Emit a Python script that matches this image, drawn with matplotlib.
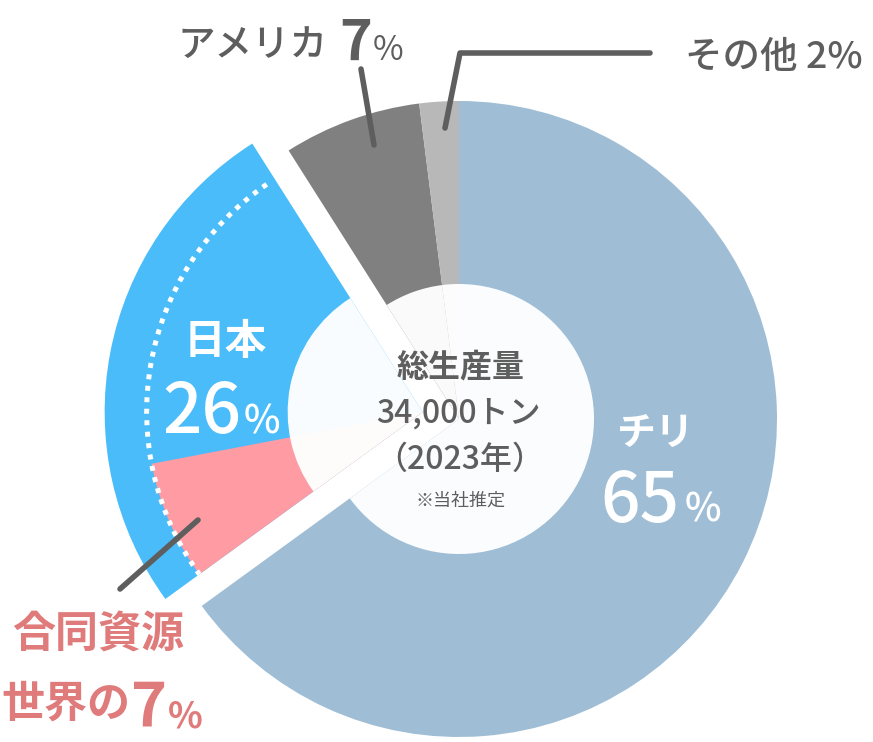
import matplotlib
matplotlib.use("Agg")
import matplotlib.pyplot as plt
from matplotlib.patches import Wedge, Arc

plt.rcParams['font.family'] = ['Noto Sans CJK JP', 'DejaVu Sans']

# データ
countries = ['チリ', '日本', 'アメリカ', 'その他']
shares = [65, 26, 7, 2]
godo_share = 7          # 合同資源 (日本の内数)
colors = ['#9FBED6', '#49BCF9', '#808080', '#B8B8B8']
pink = '#FE9BA3'
gray_txt = '#5E5E5E'
red_txt = '#E07B7B'

H = 742
def Y(y):
    # 画像座標 -> データ座標
    return H - y


fig = plt.figure(figsize=(8.73, 7.42), dpi=100)
ax = fig.add_axes([0, 0, 1, 1])

R = 318
hole = 135
cx, cy = 459, Y(419)
explode = [0, 37, 0, 0]   # pie() はデータ単位でずらす

wedges, _ = ax.pie(shares, colors=colors, startangle=90, counterclock=False,
                   radius=R, center=(cx, cy), explode=explode, frame=True,
                   wedgeprops=dict(linewidth=0))

jp = wedges[1]
# 合同資源 (チリ側から7%分)
g_deg = 360 * godo_share / sum(shares)
ax.add_patch(Wedge(jp.center, 276, jp.theta2 - g_deg, jp.theta2,
                   color=pink, lw=0))

# 中心の白い円
for w in wedges:
    ax.add_patch(Wedge(w.center, hole, w.theta1, w.theta2,
                       facecolor='white', alpha=0.97, lw=0))

# 点線
ax.add_patch(Arc(jp.center, 2 * 276, 2 * 276, theta1=jp.theta1 + 2,
                 theta2=jp.theta2, color='white', lw=3.6,
                 linestyle=(0, (1, 1.3))))

# 引き出し線
lk = dict(color=gray_txt, lw=4, solid_capstyle='round', solid_joinstyle='round')
ax.plot([361, 374], [Y(69), Y(145)], **lk)
ax.plot([650, 460, 445], [Y(53), Y(53), Y(128)], **lk)
ax.plot([198, 120], [Y(520), Y(589)], **lk)

# ラベル
ax.text(656, Y(434), 'チリ', color='white', fontsize=28, fontweight='bold',
        ha='center', va='center')
ax.text(680, Y(522), '65', color='white', fontsize=50, fontweight='medium',
        ha='right', va='baseline')
ax.text(685, Y(522), '%', color='white', fontsize=28, fontweight='medium',
        ha='left', va='baseline')

ax.text(225, Y(342), '日本', color='white', fontsize=30, fontweight='bold',
        ha='center', va='center')
ax.text(241, Y(433), '26', color='white', fontsize=50, fontweight='medium',
        ha='right', va='baseline')
ax.text(244, Y(433), '%', color='white', fontsize=28, fontweight='medium',
        ha='left', va='baseline')

ax.text(461, Y(367), '総生産量', color=gray_txt, fontsize=23, fontweight='bold',
        ha='center', va='center')
ax.text(458, Y(414), '34,000トン', color=gray_txt, fontsize=23,
        fontweight='medium', ha='center', va='center')
ax.text(460, Y(460), '（2023年）', color=gray_txt, fontsize=23,
        fontweight='medium', ha='center', va='center')
ax.text(461, Y(501), '※当社推定', color=gray_txt, fontsize=13,
        ha='center', va='center')

ax.text(252, Y(45), 'アメリカ', color=gray_txt, fontsize=27, fontweight='medium',
        ha='center', va='center')
ax.text(339, Y(60), '7', color=gray_txt, fontsize=40, fontweight='bold',
        ha='left', va='baseline')
ax.text(373, Y(60), '%', color=gray_txt, fontsize=24,
        ha='left', va='baseline')

ax.text(685, Y(57), 'その他 2%', color=gray_txt, fontsize=27, fontweight='medium',
        ha='left', va='center')

ax.text(98, Y(635), '合同資源', color=red_txt, fontsize=31, fontweight='bold',
        ha='center', va='center')
ax.text(66, Y(704), '世界の', color=red_txt, fontsize=31, fontweight='bold',
        ha='center', va='center')
ax.text(131, Y(727), '7', color=red_txt, fontsize=44, fontweight='bold',
        ha='left', va='baseline')
ax.text(168, Y(727), '%', color=red_txt, fontsize=26, fontweight='bold',
        ha='left', va='baseline')

ax.set_xlim(0, 873)
ax.set_ylim(0, H)
ax.set_aspect('equal')
ax.axis('off')

fig.savefig('out.png', dpi=100, facecolor='white')
